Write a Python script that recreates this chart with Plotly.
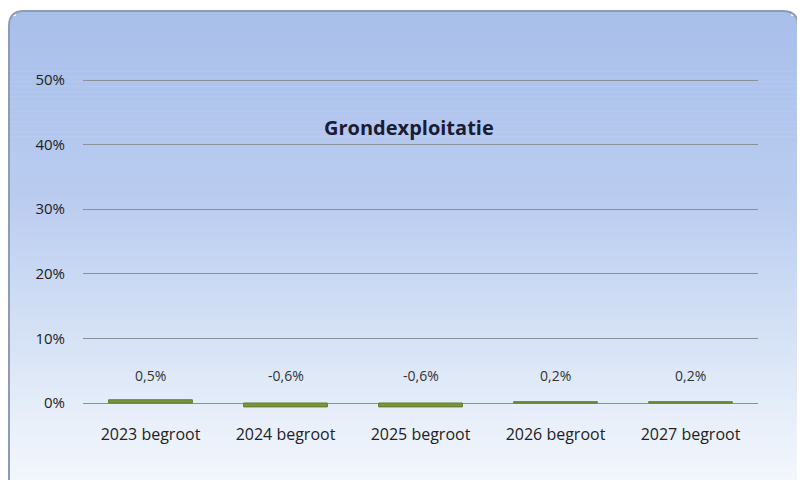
import plotly.graph_objects as go

# ---- data ----
categories = ["2023 begroot", "2024 begroot", "2025 begroot", "2026 begroot", "2027 begroot"]
values = [0.005, -0.006, -0.006, 0.002, 0.002]
value_labels = ["0,5%", "-0,6%", "-0,6%", "0,2%", "0,2%"]
y_ticks = [0, 0.1, 0.2, 0.3, 0.4, 0.5]
y_tick_labels = ["0%", "10%", "20%", "30%", "40%", "50%"]
title_text = "Grondexploitatie"

OFF = 8  # page body margin
W, H = 805 - OFF, 480 - OFF
ML, MR, MT, MB = 83 - OFF, 47, 48 - OFF, 64
PW, PH = W - ML - MR, H - MT - MB

def px(x):  # reference pixel -> paper
    return (x - OFF - ML) / PW

def py(y):
    return (H - MB - (y - OFF)) / PH

FONT = "Open Sans"

fig = go.Figure()
fig.add_trace(go.Bar(
    x=categories, y=values, width=0.62,
    marker=dict(color="#79963d", line=dict(color="#5e7a2c", width=1)),
    hoverinfo="skip",
))

shapes = []
x0f, x1f, y0f, y1f, R = 9, 798, 11, 482, 15
stops = [(11, (168, 191, 234)), (200, (186, 204, 240)), (330, (212, 225, 245)),
         (420, (232, 239, 250)), (482, (243, 247, 252))]

def col(y):
    for (ya, ca), (yb, cb) in zip(stops, stops[1:]):
        if ya <= y <= yb:
            t = (y - ya) / (yb - ya)
            c = [round(a + (b - a) * t) for a, b in zip(ca, cb)]
            return "rgb(%d,%d,%d)" % tuple(c)
    return "rgb(%d,%d,%d)" % stops[-1][1]

N = 94
step = (y1f - y0f) / N
for i in range(N):
    ya = y0f + i * step
    yb = ya + step + 0.6
    ym = ya + step / 2
    inset = 0
    if ym < y0f + R:
        d = y0f + R - ym
        inset = R - (R * R - min(d, R) ** 2) ** 0.5
    shapes.append(dict(type="rect", xref="paper", yref="paper", layer="below",
                       x0=px(x0f + inset), x1=px(x1f - inset), y0=py(yb), y1=py(ya),
                       fillcolor=col(ym), line=dict(width=0)))

path = (f"M {px(x0f)},{py(y1f)} L {px(x0f)},{py(y0f + R)} "
        f"Q {px(x0f)},{py(y0f)} {px(x0f + R)},{py(y0f)} "
        f"L {px(x1f - R)},{py(y0f)} Q {px(x1f)},{py(y0f)} {px(x1f)},{py(y0f + R)} "
        f"L {px(x1f)},{py(y1f)}")
shapes.append(dict(type="path", xref="paper", yref="paper", layer="below", path=path,
                   line=dict(color="#8e9cb3", width=2)))

annotations = []
for c, v, lab in zip(categories, values, value_labels):
    annotations.append(dict(x=c, y=0, xref="x", yref="y", text=lab, showarrow=False,
                            yshift=28, font=dict(family=FONT, size=14, color="#333333")))
annotations.append(dict(x=px(409), y=py(128), xref="paper", yref="paper",
                        xanchor="center", yanchor="middle",
                        text="<b>" + title_text + "</b>",
                        showarrow=False, font=dict(family=FONT, size=20, color="#1b1b33")))

zero_px = 403 - OFF
fig.update_layout(
    width=W, height=H,
    margin=dict(l=ML, r=MR, t=MT, b=MB, pad=0),
    paper_bgcolor="white", plot_bgcolor="rgba(0,0,0,0)",
    showlegend=False,
    shapes=shapes, annotations=annotations,
    font=dict(family=FONT, color="#222222"),
    xaxis=dict(showgrid=False, showline=False, ticks="outside", ticklen=4,
               tickcolor="rgba(0,0,0,0)", tickfont=dict(size=16, color="#222222"),
               range=[-0.5, 4.5]),
    yaxis=dict(range=[-(H - MB - zero_px) / 646, 0.5 + (80 - OFF - MT) / 646],
               tickvals=y_ticks, ticktext=y_tick_labels,
               showgrid=True, gridcolor="#8a9099", gridwidth=1,
               zeroline=True, zerolinecolor="#8a9099", zerolinewidth=1,
               ticks="outside", ticklen=14, tickcolor="rgba(0,0,0,0)",
               tickfont=dict(size=15, color="#222222")),
)

fig.write_html("out.html")
